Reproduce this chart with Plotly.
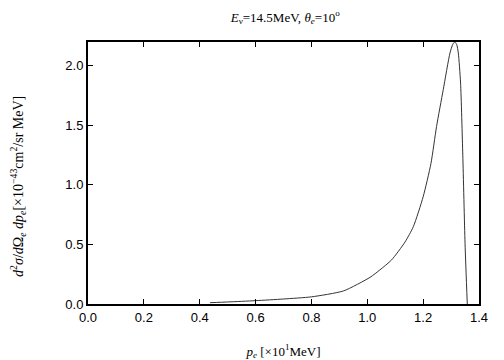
import plotly.graph_objects as go

p_e = [0.437, 0.50, 0.60, 0.70, 0.80, 0.915, 1.01, 1.045, 1.087, 1.135, 1.165, 1.20, 1.228, 1.248,
       1.272, 1.296, 1.306, 1.313, 1.320, 1.326, 1.334, 1.342, 1.350, 1.358]
xsec = [0.011, 0.017, 0.028, 0.042, 0.06, 0.11, 0.224, 0.286, 0.37, 0.52, 0.65, 0.90, 1.18, 1.49,
        1.80, 2.107, 2.18, 2.20, 2.18, 2.107, 1.855, 1.25, 0.51, 0.0]

x_ticks = [0.0, 0.2, 0.4, 0.6, 0.8, 1.0, 1.2, 1.4]
y_ticks = [0.0, 0.5, 1.0, 1.5, 2.0]

fig = go.Figure()
fig.add_trace(go.Scatter(x=p_e, y=xsec, mode="lines", line_shape="spline",
                         line=dict(color="#333333", width=1, smoothing=0.6), showlegend=False))

tickfont = dict(family="Liberation Sans, Arial, sans-serif", size=13, color="black")
serif = "Liberation Serif, Times New Roman, serif"
fig.update_layout(
    width=504, height=360,
    margin=dict(l=80, r=33, t=34, b=64),
    paper_bgcolor="white", plot_bgcolor="white",
    title=dict(text="<i>E</i><sub>ν</sub>=14.5MeV, <i>θ</i><sub><i>e</i></sub>=10<sup>o</sup>",
               x=0.55, xanchor="center", y=0.975, yanchor="middle",
               font=dict(family=serif, size=13, color="black")),
    xaxis=dict(range=[0, 1.4], tickvals=x_ticks, ticktext=[f"{v:.1f}" for v in x_ticks],
               ticks="inside", ticklen=5, tickcolor="black", mirror="ticks",
               showline=True, linecolor="black", linewidth=2, showgrid=False, zeroline=False,
               tickfont=tickfont, automargin=False,
               title=dict(text="<i>p</i><sub><i>e</i></sub> [×10<sup>1</sup>MeV]", standoff=23,
                          font=dict(family=serif, size=13, color="black"))),
    yaxis=dict(range=[0, 2.2], tickvals=y_ticks, ticktext=[f"{v:.1f}" for v in y_ticks],
               ticks="inside", ticklen=5, tickcolor="black", mirror="ticks",
               showline=True, linecolor="black", linewidth=2, showgrid=False, zeroline=False,
               tickfont=tickfont, automargin=False),
    annotations=[dict(
        text="<i>d</i><sup>2</sup><i>σ</i>/<i>d</i>Ω<sub><i>e</i></sub> <i>dp</i><sub><i>e</i></sub>[×10<sup>−43</sup>cm<sup>2</sup>/sr MeV]",
        xref="paper", yref="paper", x=-0.179, y=0.447, xanchor="center", yanchor="middle",
        textangle=-90, showarrow=False, font=dict(family=serif, size=14, color="black"))],
)

fig.write_html("out.html")
